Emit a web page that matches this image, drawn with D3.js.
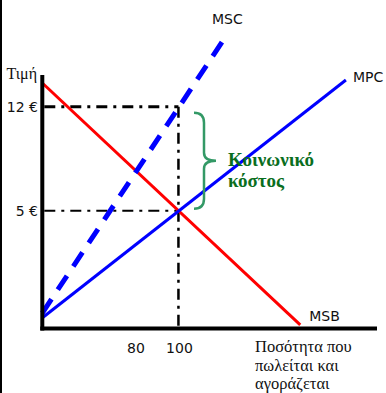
<!DOCTYPE html>
<html>
<head>
<meta charset="utf-8">
<script src="https://cdn.jsdelivr.net/npm/d3@7"></script>
<style>
  html, body { margin: 0; padding: 0; background: #fff; }
  svg { display: block; }
</style>
</head>
<body>
<svg id="chart" width="386" height="393"></svg>
<script>
// Quantity and price ticks shown on the axes
const quantityTicks = [80, 100];
const priceTicks = [12, 5];
const priceTickLabels = ["12 €", "5 €"];

// Curves, each as [quantity, price] end points
const msbLine = [[37.4, 13.6], [156, -2.7]];
const mpcLine = [[37.6, -2.2], [177, 13.8]];
const mscLine = [[37.4, -1.9], [120, 16.35]];

// Market equilibrium and the price that includes the external cost
const eqQuantity = 100;
const eqPrice = 5;
const socialPrice = 12;

const axisLabels = { y: "Τιμή", x: ["Ποσότητα που", "πωλείται και", "αγοράζεται"] };
const costLabel = ["Κοινωνικό", "κόστος"];

const svg = d3.select("#chart");

const x = d3.scaleLinear().domain([37.4, 191.3]).range([42.3, 377]);
const y = d3.scaleLinear().domain([-2.94, 14.14]).range([328.5, 75]);

const sans = "'DejaVu Sans', Verdana, sans-serif";
const serif = "'Liberation Serif', 'Times New Roman', serif";

// Frame edge on the left
svg.append("line")
  .attr("x1", 1).attr("x2", 1).attr("y1", 0).attr("y2", 393)
  .attr("stroke", "#000").attr("stroke-width", 2);

const line = d3.line().x(d => x(d[0])).y(d => y(d[1]));

// Dash-dot guides at the two prices and the equilibrium quantity
const guides = svg.append("g").attr("fill", "none").attr("stroke", "#000");
guides.append("path")
  .attr("d", line([[x.domain()[0], socialPrice], [eqQuantity, socialPrice]]))
  .attr("stroke-width", 3).attr("stroke-dasharray", "11,6,3,6")
  .attr("stroke-dashoffset", -2);
guides.append("path")
  .attr("d", line([[eqQuantity, socialPrice], [eqQuantity, y.domain()[0]]]))
  .attr("stroke-width", 2.5).attr("stroke-dasharray", "11,6,3,6");
guides.append("path")
  .attr("d", line([[x.domain()[0], eqPrice], [eqQuantity, eqPrice]]))
  .attr("stroke-width", 2).attr("stroke-dasharray", "11,6,3,6")
  .attr("stroke-dashoffset", -2);

// Curves
svg.append("path").attr("d", line(msbLine))
  .attr("fill", "none").attr("stroke", "#ff0000").attr("stroke-width", 3);
svg.append("path").attr("d", line(mpcLine))
  .attr("fill", "none").attr("stroke", "#0000ff").attr("stroke-width", 3);

// Dashed MSC: dash/gap sized so the line both starts and ends on a dash
const mscPath = svg.append("path").attr("d", line(mscLine))
  .attr("fill", "none").attr("stroke", "#0000ff").attr("stroke-width", 5);
const mscLen = mscPath.node().getTotalLength();
const nGaps = 11, dashRatio = 16 / 11;
const gap = mscLen / (nGaps * dashRatio + nGaps + dashRatio);
mscPath.attr("stroke-dasharray", `${gap * dashRatio},${gap}`);

// Axes
const axisG = svg.append("g").attr("stroke", "#000").attr("stroke-width", 4);
axisG.append("line")
  .attr("x1", x.range()[0]).attr("x2", x.range()[0])
  .attr("y1", y.range()[1]).attr("y2", y.range()[0] + 2);
axisG.append("line")
  .attr("x1", x.range()[0] - 2).attr("x2", x.range()[1])
  .attr("y1", y.range()[0]).attr("y2", y.range()[0]);

// Price tick labels
svg.append("g").selectAll("text").data(priceTicks).join("text")
  .attr("x", 38).attr("y", d => y(d)).attr("dy", "0.36em")
  .attr("text-anchor", "end")
  .attr("font-family", sans).attr("font-size", 14).attr("fill", "#111")
  .text((d, i) => priceTickLabels[i]);

// Quantity tick labels
svg.append("g").selectAll("text").data(quantityTicks).join("text")
  .attr("x", d => x(d) + 1).attr("y", 353)
  .attr("text-anchor", "middle")
  .attr("font-family", sans).attr("font-size", 14).attr("fill", "#111")
  .text(d => d);

// Axis titles
svg.append("text")
  .attr("x", 37).attr("y", 79).attr("text-anchor", "end")
  .attr("font-family", serif).attr("font-size", 16).attr("fill", "#111")
  .text(axisLabels.y);
svg.append("g").selectAll("text").data(axisLabels.x).join("text")
  .attr("x", 255).attr("y", (d, i) => 352 + i * 18.5)
  .attr("font-family", serif).attr("font-size", 16.5).attr("fill", "#111")
  .text(d => d);

// Curve names next to their ends
const curveNames = [
  { name: "MSC", pt: mscLine[1], dx: -10, dy: -18 },
  { name: "MPC", pt: mpcLine[1], dx: 7, dy: 2 },
  { name: "MSB", pt: msbLine[1], dx: 9, dy: -4 }
];
svg.append("g").selectAll("text").data(curveNames).join("text")
  .attr("x", d => x(d.pt[0]) + d.dx).attr("y", d => y(d.pt[1]) + d.dy)
  .attr("font-family", sans).attr("font-size", 14).attr("fill", "#111")
  .text(d => d.name);

// Curly brace spanning the external cost between the two prices
const bTop = y(socialPrice) + 6, bBot = y(eqPrice) - 2;
const bMid = (bTop + bBot) / 2;
const bx0 = 194, bx1 = 204, bTip = 216, r = 10;
const brace = d3.path();
brace.moveTo(bx0, bTop);
brace.quadraticCurveTo(bx1, bTop, bx1, bTop + r);
brace.lineTo(bx1, bMid - 8);
brace.quadraticCurveTo(bx1, bMid, bTip, bMid);
brace.quadraticCurveTo(bx1, bMid, bx1, bMid + 8);
brace.lineTo(bx1, bBot - r);
brace.quadraticCurveTo(bx1, bBot, bx0, bBot);
svg.append("path").attr("d", brace.toString())
  .attr("fill", "none").attr("stroke", "#339966").attr("stroke-width", 2.5);

svg.append("g").selectAll("text").data(costLabel).join("text")
  .attr("x", 228).attr("y", (d, i) => 165.5 + i * 21.5)
  .attr("font-family", serif).attr("font-size", 19).attr("font-weight", "bold")
  .attr("fill", "#0a6e1e")
  .text(d => d);
</script>
</body>
</html>
